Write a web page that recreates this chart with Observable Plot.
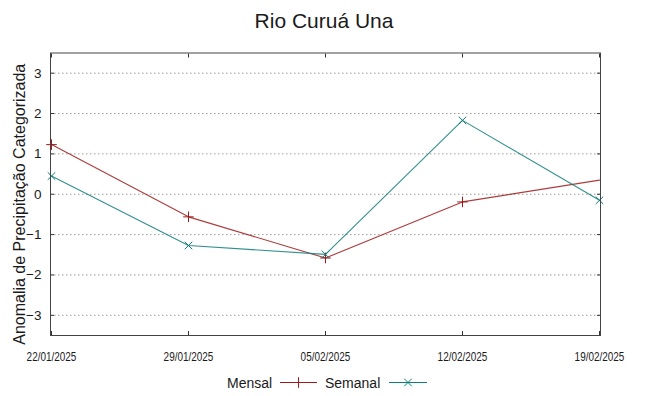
<!DOCTYPE html>
<html>
<head>
<meta charset="utf-8">
<script src="https://cdn.jsdelivr.net/npm/d3@7"></script>
<script src="https://cdn.jsdelivr.net/npm/@observablehq/plot@0.6"></script>
<style>
  html, body { margin: 0; padding: 0; background: #fff; }
  body { width: 648px; height: 396px; overflow: hidden; font-family: "Liberation Sans", Arial, sans-serif; color: #1a1a1a; }
  #title { height: 40px; line-height: 42px; text-align: center; font-size: 21px; }
  #chart svg { overflow: visible; display: block; }
  #legend { position: relative; height: 26px; font-size: 14px; }
  #legend span { position: absolute; top: 4px; line-height: 18px; }
  #legend svg { position: absolute; top: 0; }
</style>
</head>
<body>
<div id="title">Rio Curuá Una</div>
<div id="chart"></div>
<div id="legend"></div>
<script>
const dates = ["22/01/2025", "29/01/2025", "05/02/2025", "12/02/2025", "19/02/2025"];
const mensal = [1.23, -0.56, -1.58, -0.19, 0.35];
const semanal = [0.45, -1.27, -1.49, 1.83, -0.15];
const yTicks = [-3, -2, -1, 0, 1, 2, 3];
const seriesNames = ["Mensal", "Semanal"];
const colors = {Mensal: "#9e1a1a", Semanal: "#0f7b7b"};
const yLabel = "Anomalia de Precipitação Categorizada";

const mensalData = dates.map((d, i) => ({date: d, value: mensal[i], series: "Mensal"}));
const semanalData = dates.map((d, i) => ({date: d, value: semanal[i], series: "Semanal"}));
// Mensal's last point sits on the frame edge where its marker is clipped in the original
const mensalMarks = mensalData.slice(0, 4);

const chart = Plot.plot({
  width: 648,
  height: 330,
  marginLeft: 50,
  marginRight: 48,
  marginTop: 12.5,
  marginBottom: 35,
  style: {fontFamily: "Liberation Sans, Arial, sans-serif", fontSize: "13px", color: "#1a1a1a", background: "#fff", overflow: "visible"},
  x: {type: "point", domain: dates, padding: 0},
  y: {domain: [-3.5, 3.5]},
  marks: [
    Plot.gridY(yTicks, {stroke: "#9a9a9a", strokeOpacity: 1, strokeDasharray: "1.5,2.5"}),
    Plot.axisY(yTicks, {anchor: "left", tickSize: 0, tickPadding: 9, fontSize: 13.5, label: null}),
    Plot.axisY(yTicks, {anchor: "left", tickSize: -4, tickFormat: () => "", label: null, stroke: "#333"}),
    Plot.axisY(yTicks, {anchor: "right", tickSize: -4, tickFormat: () => "", label: null, stroke: "#333"}),
    Plot.axisX(dates, {anchor: "bottom", tickSize: 0, tickPadding: 17, fontSize: 12, label: null}),
    Plot.axisX(dates, {anchor: "bottom", tickSize: -4, tickFormat: () => "", label: null, stroke: "#333"}),
    Plot.axisX(dates, {anchor: "top", tickSize: -4, tickFormat: () => "", label: null, stroke: "#333"}),
    Plot.text([yLabel], {text: d => d, frameAnchor: "left", textAnchor: "middle", rotate: -90, dx: -31, dy: 10, fontSize: 16, fill: "#1a1a1a"}),
    Plot.line(mensalData, {x: "date", y: "value", stroke: colors.Mensal, strokeWidth: 1.1, strokeOpacity: 0.85}),
    Plot.line(semanalData, {x: "date", y: "value", stroke: colors.Semanal, strokeWidth: 1.1, strokeOpacity: 0.85}),
    Plot.dot(mensalMarks, {x: "date", y: "value", symbol: "plus", r: 3.5, stroke: colors.Mensal, strokeWidth: 1}),
    Plot.dot(semanalData, {x: "date", y: "value", symbol: "times", r: 3.5, stroke: colors.Semanal, strokeWidth: 1}),
    Plot.frame({stroke: "#444", strokeWidth: 1})
  ]
});
document.getElementById("chart").appendChild(chart);

// condensed look of the date tick labels (narrow font of the original)
d3.select(chart).selectAll('g[aria-label="x-axis tick label"] text').each(function() {
  const t = this.getAttribute("transform") || "";
  this.setAttribute("transform", t + " scale(0.83,1)");
});

// Legend (gnuplot style: label, then a line sample with its point marker)
const legend = document.getElementById("legend");
const legendLayout = [
  {name: "Mensal", textRight: 272, lineStart: 280, lineEnd: 317, symbol: d3.symbolPlus},
  {name: "Semanal", textRight: 380, lineStart: 389, lineEnd: 427, symbol: d3.symbolTimes}
];
legendLayout.forEach(item => {
  const span = document.createElement("span");
  span.textContent = item.name;
  legend.appendChild(span);
  span.style.left = (item.textRight - span.offsetWidth) + "px";
  const w = item.lineEnd - item.lineStart;
  const svg = d3.create("svg").attr("width", w).attr("height", 26)
    .style("left", item.lineStart + "px");
  svg.append("line").attr("x1", 0).attr("x2", w).attr("y1", 12.5).attr("y2", 12.5)
    .attr("stroke", colors[item.name]).attr("stroke-width", 1);
  svg.append("path").attr("d", d3.symbol(item.symbol, Math.PI * 3.5 * 3.5)())
    .attr("transform", `translate(${w / 2},12.5)`)
    .attr("fill", "none").attr("stroke", colors[item.name]).attr("stroke-width", 1);
  legend.appendChild(svg.node());
});
</script>
</body>
</html>
